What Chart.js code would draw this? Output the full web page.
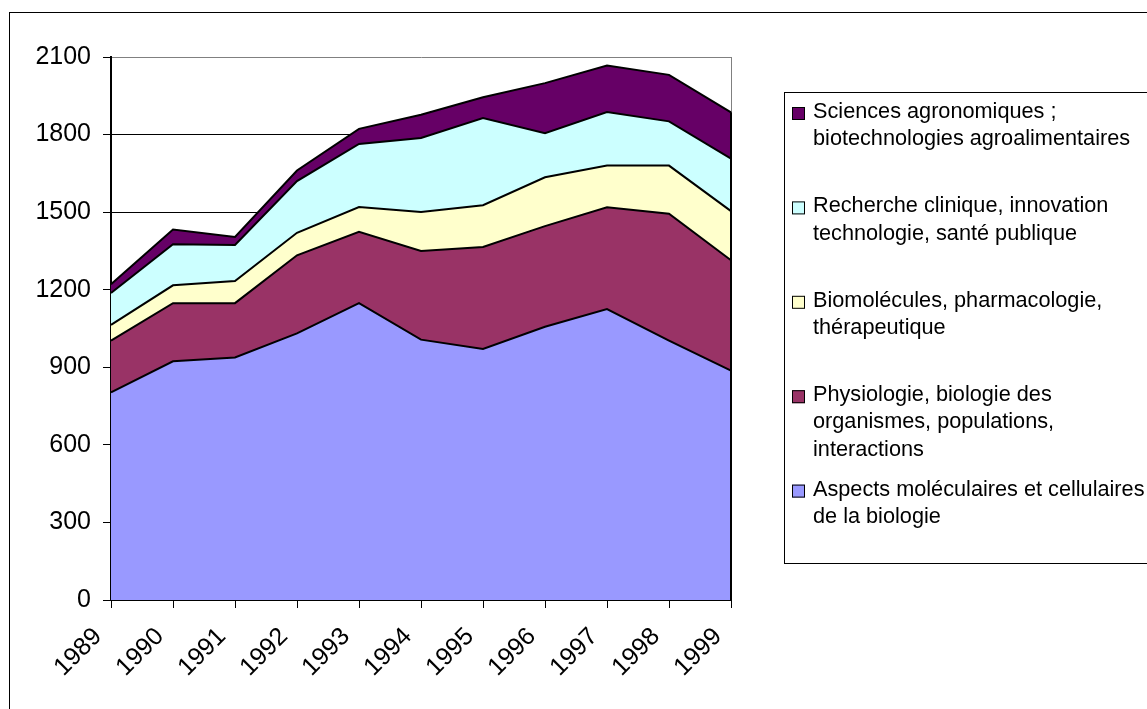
<!DOCTYPE html>
<html>
<head>
<meta charset="utf-8">
<script src="https://cdn.jsdelivr.net/npm/chart.js@4/dist/chart.umd.min.js"></script>
<style>
  html, body { margin: 0; padding: 0; background: #fff; }
  #wrap { width: 1147px; height: 709px; position: relative; }
</style>
</head>
<body>
<div id="wrap"><canvas id="c" width="1147" height="709"></canvas></div>
<script>
// ---- data ----
const years = ['1989','1990','1991','1992','1993','1994','1995','1996','1997','1998','1999'];
const aspects      = [803, 923, 938, 1031, 1148, 1007, 971, 1057, 1125, 1003, 887];
const physiologie  = [200, 225, 210, 302, 276, 343, 394, 389, 394, 491, 427];
const biomolecules = [61, 69, 86, 87, 96, 151, 162, 189, 161, 186, 190];
const recherche    = [123, 159, 139, 200, 244, 286, 337, 170, 207, 171, 203];
const agronomie    = [34, 57, 31, 41, 58, 90, 80, 194, 180, 180, 179];
const yTicks = [0, 300, 600, 900, 1200, 1500, 1800, 2100];

const seriesLabels = [
  ['Aspects moléculaires et cellulaires', 'de la biologie'],
  ['Physiologie, biologie des', 'organismes, populations,', 'interactions'],
  ['Biomolécules, pharmacologie,', 'thérapeutique'],
  ['Recherche clinique, innovation', 'technologie, santé publique'],
  ['Sciences agronomiques ;', 'biotechnologies agroalimentaires']
];
const seriesValues = [aspects, physiologie, biomolecules, recherche, agronomie];
const seriesColors = ['#9999FF', '#993366', '#FFFFCC', '#CCFFFF', '#660066'];

const FONT = '"Liberation Sans", Arial, sans-serif';

const datasets = seriesValues.map((vals, i) => ({
  label: seriesLabels[i].join(' '),
  data: vals,
  backgroundColor: seriesColors[i],
  borderColor: '#000',
  borderWidth: 2,
  pointRadius: 0,
  pointHoverRadius: 0,
  tension: 0,
  fill: i === 0 ? 'origin' : '-1'
}));

const framePlugin = {
  id: 'frame',
  beforeDraw(chart) {
    const ctx = chart.ctx;
    ctx.save();
    ctx.fillStyle = '#fff';
    ctx.fillRect(0, 0, chart.width, chart.height);
    ctx.strokeStyle = '#000';
    ctx.lineWidth = 1;
    ctx.strokeRect(9.5, 12.5, chart.width + 20, chart.height + 20);
    ctx.restore();
  },
  beforeDatasetsDraw(chart) {
    const ctx = chart.ctx, a = chart.chartArea;
    ctx.save();
    ctx.strokeStyle = '#808080';
    ctx.lineWidth = 1;
    ctx.beginPath();
    ctx.moveTo(Math.round(a.right) + 0.5, a.bottom);
    ctx.lineTo(Math.round(a.right) + 0.5, a.top);
    ctx.stroke();
    ctx.restore();
  },
  afterDatasetsDraw(chart) {
    const ctx = chart.ctx, a = chart.chartArea;
    const last = chart.data.datasets.length - 1;
    const meta = chart.getDatasetMeta(last);
    const pt = meta.data[meta.data.length - 1];
    ctx.save();
    ctx.strokeStyle = '#000';
    ctx.lineWidth = 2;
    ctx.beginPath();
    ctx.moveTo(pt.x, a.bottom);
    ctx.lineTo(pt.x, pt.y);
    ctx.stroke();
    ctx.restore();
  },
  afterDraw(chart) {
    const ctx = chart.ctx;
    ctx.save();
    // legend box
    ctx.strokeStyle = '#000';
    ctx.lineWidth = 1;
    ctx.strokeRect(784.5, 92.5, 400, 471);
    ctx.font = '21.7px ' + FONT;
    ctx.textBaseline = 'alphabetic';
    ctx.textAlign = 'left';
    const n = seriesLabels.length;
    for (let k = 0; k < n; k++) {
      const i = n - 1 - k;
      const base = 118 + k * 94.4;
      ctx.fillStyle = seriesColors[i];
      ctx.fillRect(792, base - 11, 13, 13);
      ctx.strokeStyle = '#000';
      ctx.lineWidth = 1;
      ctx.strokeRect(792.5, base - 10.5, 12, 12);
      ctx.fillStyle = '#000';
      seriesLabels[i].forEach((line, j) => {
        ctx.fillText(line, 813, base + j * 27.2);
      });
    }
    ctx.restore();
  }
};

new Chart(document.getElementById('c'), {
  type: 'line',
  data: { labels: years, datasets },
  plugins: [framePlugin],
  options: {
    responsive: false,
    animation: false,
    events: [],
    layout: { padding: { left: 0, top: 57, right: 416, bottom: 0 } },
    plugins: {
      legend: { display: false },
      tooltip: { enabled: false },
      filler: { propagate: false }
    },
    scales: {
      x: {
        type: 'category',
        offset: false,
        afterFit(s) { s.height = 109; },
        grid: { drawOnChartArea: false, drawTicks: true, tickLength: 8, color: '#000', tickColor: '#000' },
        border: { color: '#000', width: 2 },
        ticks: {
          color: '#000',
          font: { family: FONT, size: 25 },
          minRotation: 45,
          maxRotation: 45,
          autoSkip: false,
          padding: 14,
          labelOffset: -13
        }
      },
      y: {
        stacked: true,
        min: 0,
        max: 2100,
        afterFit(s) { s.width = 111; },
        afterBuildTicks(s) { s.ticks = yTicks.map(v => ({ value: v })); },
        grid: {
          color: (c) => (c.tick && c.tick.value === 2100) ? '#808080' : '#000',
          tickColor: '#000',
          lineWidth: 1,
          tickLength: 8,
          drawTicks: true
        },
        border: { color: '#000', width: 2 },
        ticks: {
          color: '#000',
          font: { family: FONT, size: 25 },
          padding: 12,
          callback: (v) => String(v)
        }
      }
    }
  }
});
</script>
</body>
</html>
